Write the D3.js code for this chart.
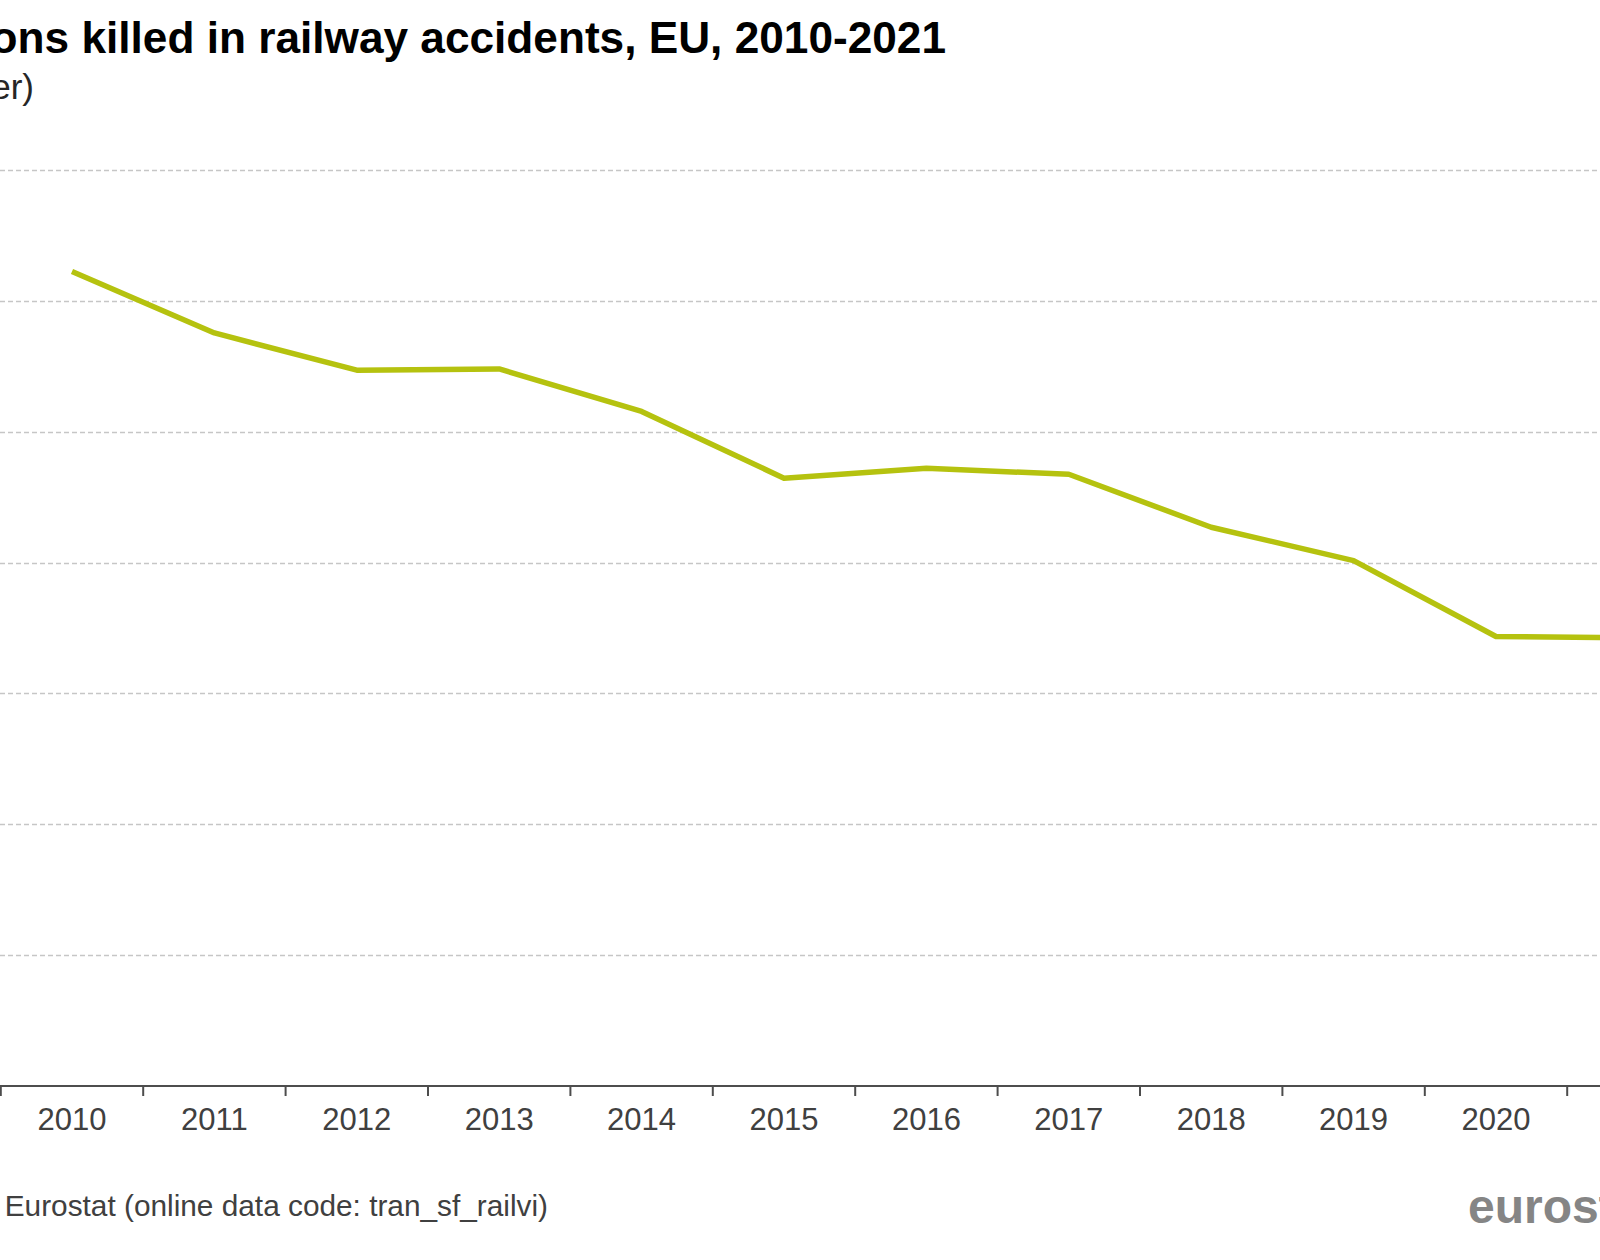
<!DOCTYPE html>
<html>
<head>
<meta charset="utf-8">
<script src="https://cdn.jsdelivr.net/npm/d3@7"></script>
<style>
  body { margin: 0; background: #fff; }
  svg { display: block; font-family: "Liberation Sans", Arial, sans-serif; }
</style>
</head>
<body>
<div id="chart"></div>
<script>
// persons killed in railway accidents, EU (number)
const years = ["2010", "2011", "2012", "2013", "2014", "2015", "2016", "2017", "2018", "2019", "2020", "2021"];
const killed = [1245, 1151, 1094, 1096, 1031, 929, 944, 935, 854, 803, 687, 685];
const yTicks = [0, 200, 400, 600, 800, 1000, 1200, 1400];

const title = "Persons killed in railway accidents, EU, 2010-2021";
const subtitle = "(number)";
const source = "Source: Eurostat (online data code: tran_sf_railvi)";

const width = 1600;
const height = 1260;

const svg = d3.select("#chart").append("svg")
    .attr("width", width)
    .attr("height", height);

svg.append("rect").attr("width", width).attr("height", height).attr("fill", "#fff");

// the picture is a crop, so the plot runs past both edges
const x = d3.scaleBand()
    .domain(years)
    .range([0.8, 0.8 + 12 * 142.4])
    .padding(0);

const y = d3.scaleLinear()
    .domain([0, 1400])
    .range([1086, 170]);

// grid
svg.append("g")
    .selectAll("line")
    .data(yTicks.filter(d => d > 0))
    .enter().append("line")
    .attr("x1", 0)
    .attr("x2", width)
    .attr("y1", d => Math.round(y(d)) + 0.5)
    .attr("y2", d => Math.round(y(d)) + 0.5)
    .attr("stroke", "#c6c6c6")
    .attr("stroke-width", 1.5)
    .attr("stroke-dasharray", "5,3");

// x axis, ticks between categories
const xAxis = svg.append("g").attr("transform", `translate(0, ${y(0)})`);
xAxis.append("line")
    .attr("x1", 0)
    .attr("x2", width)
    .attr("stroke", "#4d4d4d")
    .attr("stroke-width", 2);
xAxis.selectAll("line.tick")
    .data(years)
    .enter().append("line")
    .attr("class", "tick")
    .attr("x1", d => x(d))
    .attr("x2", d => x(d))
    .attr("y1", 0)
    .attr("y2", 10)
    .attr("stroke", "#4d4d4d")
    .attr("stroke-width", 2);
xAxis.selectAll("text")
    .data(years)
    .enter().append("text")
    .attr("x", d => x(d) + x.bandwidth() / 2)
    .attr("y", 44)
    .attr("text-anchor", "middle")
    .attr("font-size", 31)
    .attr("fill", "#404040")
    .text(d => d);

// line
const line = d3.line()
    .x((d, i) => x(years[i]) + x.bandwidth() / 2)
    .y(d => y(d));

svg.append("path")
    .datum(killed)
    .attr("d", line)
    .attr("fill", "none")
    .attr("stroke", "#b5c20f")
    .attr("stroke-width", 5.5)
    .attr("stroke-linejoin", "round");

// titles
svg.append("text")
    .attr("x", 946)
    .attr("y", 53)
    .attr("text-anchor", "end")
    .attr("font-size", 44.2)
    .attr("font-weight", "bold")
    .attr("fill", "#000")
    .text(title);

svg.append("text")
    .attr("x", 34)
    .attr("y", 99)
    .attr("text-anchor", "end")
    .attr("font-size", 35)
    .attr("fill", "#262626")
    .text(subtitle);

svg.append("text")
    .attr("x", 548)
    .attr("y", 1216)
    .attr("text-anchor", "end")
    .attr("font-size", 29.8)
    .attr("fill", "#404040")
    .text(source);

svg.append("text")
    .attr("x", 1468)
    .attr("y", 1223)
    .attr("font-size", 48)
    .attr("font-weight", "bold")
    .attr("fill", "#858585")
    .text("eurostat");
</script>
</body>
</html>
